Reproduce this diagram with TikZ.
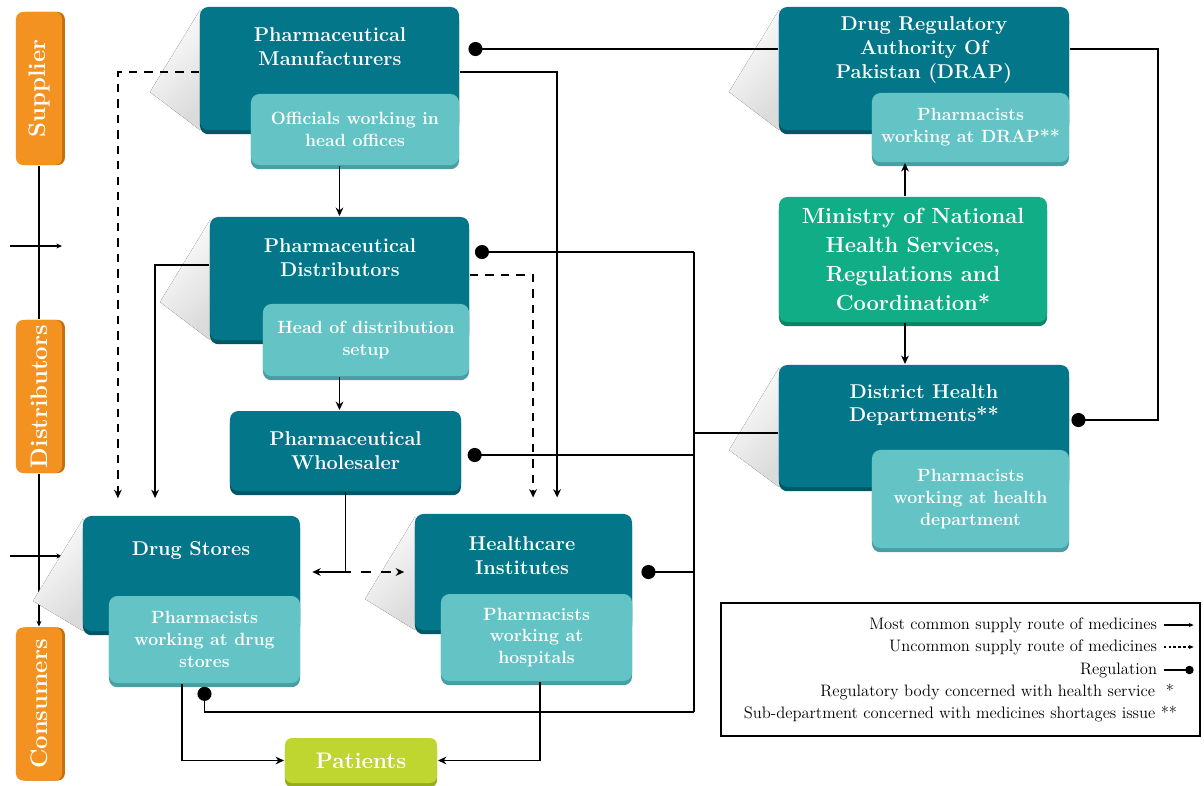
\documentclass[tikz,border=0pt]{standalone}
\usetikzlibrary{arrows.meta,positioning,shadows}
\definecolor{tealbox}{RGB}{4,118,138}
\definecolor{tealedge}{RGB}{0,88,102}
\definecolor{tealsub}{RGB}{100,196,197}
\definecolor{subedge}{RGB}{72,158,162}
\definecolor{greenbox}{RGB}{17,173,134}
\definecolor{greenedge}{RGB}{8,135,102}
\definecolor{limebox}{RGB}{191,214,48}
\definecolor{limeedge}{RGB}{150,172,28}
\definecolor{orangebox}{RGB}{243,146,32}
\definecolor{orangeedge}{RGB}{196,110,18}
\tikzset{
  mainbox/.style={fill=tealbox, rounded corners=6pt, inner sep=0pt,
    general shadow={fill=tealedge, shadow yshift=-3pt}},
  subbox/.style={fill=tealsub, rounded corners=6pt, text=white, align=center,
    font=\fontsize{12.6}{15.5}\selectfont\bfseries,
    general shadow={fill=subedge, shadow yshift=-3pt}},
  boxtext/.style={text=white, align=center, font=\fontsize{14.2}{17}\selectfont\bfseries},
  stage/.style={fill=orangebox, rounded corners=5pt, rotate=90, text=white,
    minimum width=3.825cm, minimum height=1.15cm,
    font=\fontsize{17}{19}\selectfont\bfseries,
    general shadow={fill=orangeedge, shadow xshift=2pt}},
  longshade/.style={left color=white, right color=black!14, shading angle=45, draw=none},
  rare/.style={->, dash pattern=on 6pt off 5pt},
  reg/.style={-{Circle[length=10pt]}},
  legtext/.style={anchor=east, inner sep=0pt, font=\fontsize{11.8}{13}\selectfont},
}
\begin{document}
\begin{tikzpicture}[x=0.025cm, y=-0.025cm, line width=1.4pt,
  >={Stealth[length=6pt,width=5.5pt]}]
\useasboundingbox (0,0) rectangle (1204,785);

% stages on the left
\node[stage] (sup) at (39,88.5) {Supplier};
\node[stage] (distl) at (39,396.5) {Distributors};
\node[stage] (cons) at (39,704) {Consumers};
\draw[line width=0.8pt] (sup.west) -- (distl.east);
\draw[line width=0.8pt, ->, >={Stealth[length=4pt,width=3.5pt]}] (distl.west) -- (cons.east);
\foreach \y in {246,556}
  \draw[line width=0.8pt, ->, >={Stealth[length=4pt,width=3.5pt]}] (sup.west |- 10,\y) ++(-29,0) -- ++(52,0);

% long shadows
\foreach \x/\t/\b in {200/7/130, 210/217/340, 83/516/631, 415/514/630, 779/7/130, 779/365/487}
  \fill[longshade] (\x,\t+3) -- (\x-50,\t+85) -- (\x,\b) -- cycle;

% supply chain boxes
\node[mainbox, minimum width=6.475cm, minimum height=3.075cm] (man) at (329.5,68.5) {};
\node[boxtext] (mant) at (330,47) {Pharmaceutical\\Manufacturers};
\node[subbox, minimum width=5.2cm, minimum height=1.775cm] (offi) at (355,129.5) {Officials working in\\head offices};

\node[mainbox, minimum width=6.475cm, minimum height=3.075cm] (dist) at (339.5,278.5) {};
\node[boxtext] (distt) at (340,258) {Pharmaceutical\\Distributors};
\node[subbox, minimum width=5.15cm, minimum height=1.8cm] (head) at (366,340) {Head of distribution\\setup};

\node[mainbox, minimum width=5.775cm, minimum height=2cm, boxtext] (whole) at (345.5,451) {Pharmaceutical\\Wholesaler};

\node[mainbox, minimum width=5.425cm, minimum height=2.875cm] (ds) at (191.5,573.5) {};
\node[boxtext] (dst) at (191,551) {Drug Stores};
\node[subbox, minimum width=4.775cm, minimum height=2.175cm] (dss) at (204.5,639.5) {Pharmacists\\working at drug\\stores};

\node[mainbox, minimum width=5.425cm, minimum height=2.9cm] (hc) at (523.5,572) {};
\node[boxtext] (hct) at (522,556) {Healthcare\\Institutes};
\node[subbox, minimum width=4.775cm, minimum height=2.175cm] (hcs) at (536.5,637.5) {Pharmacists\\working at\\hospitals};

\node[fill=limebox, rounded corners=5pt, minimum width=3.8cm, minimum height=1.125cm,
  text=white, font=\fontsize{16}{18}\selectfont\bfseries,
  general shadow={fill=limeedge, shadow yshift=-3pt}] (pat) at (361,760.5) {Patients};

% regulators
\node[mainbox, minimum width=7.25cm, minimum height=3.075cm] (drap) at (924,68.5) {};
\node[boxtext] (drapt) at (924,50) {Drug Regulatory\\Authority Of\\Pakistan (DRAP)};
\node[subbox, minimum width=4.925cm, minimum height=1.725cm] (drsub) at (970.5,127.5) {Pharmacists\\working at DRAP**};

\node[fill=greenbox, rounded corners=6pt, minimum width=6.7cm, minimum height=3.125cm,
  text=white, align=center, font=\fontsize{15.6}{20.5}\selectfont\bfseries,
  general shadow={fill=greenedge, shadow yshift=-3pt}] (min) at (913,259.5)
  {Ministry of National\\Health Services,\\Regulations and\\Coordination*};

\node[mainbox, minimum width=7.25cm, minimum height=3.05cm] (dhd) at (924,426) {};
\node[boxtext] (dhdt) at (924,405) {District Health\\Departments**};
\node[subbox, minimum width=4.925cm, minimum height=2.45cm] (dhs) at (970.5,499) {Pharmacists\\working at health\\department};

% supply routes
\draw[->] (offi.south -| dist.north) -- (dist.north);
\draw[->] (head.south -| dist.south) -- (whole.north -| dist.south);
\draw[->, shorten >=11pt] (man.east |- 0,72) -| ([xshift=0.84cm]hc.north);
\draw[rare, shorten >=12pt] (man.west |- 0,72) -| ([xshift=-1.84cm]ds.north);
\draw[->, shorten >=12pt] (dist.west |- 0,265) -| ([xshift=-0.91cm]ds.north);
\draw[rare, shorten >=11pt] (dist.east |- 0,275) -| ([xshift=0.24cm]hc.north);
\coordinate (split) at (whole.south |- 0,572);
\draw (whole.south) -- (split);
\draw[->, shorten >=8pt] (split) -- (ds.east |- split);
\draw[->, dash pattern=on 7pt off 7pt, dash phase=3pt, shorten >=7pt] (split) -- (hc.west |- split);
\draw[->] ([xshift=-0.56cm]dss.south) |- (pat.west);
\draw[->] ([xshift=0.09cm]hcs.south) |- (pat.east);
\draw[->] ([xshift=-0.2cm]min.north) -- ([xshift=-0.2cm]min.north |- drsub.south);
\draw[->] ([xshift=-0.2cm]min.south) -- ([xshift=-0.2cm]min.south |- dhd.north);

% regulation
\coordinate (regtop) at (694,252);
\coordinate (regbot) at (694,712);
\draw (regtop) -- (regbot);
\draw (dhd.west |- 0,433) -- (regtop |- 0,433);
\draw[reg, shorten >=6pt] (drap.west |- 0,49) -- (man.east |- 0,49);
\draw[reg, shorten >=1pt] (drap.east |- 0,49) -- (1158,49) |- (dhd.east |- 0,420);
\draw[reg, shorten >=3.5pt] (regtop) -- (dist.east |- regtop);
\draw[reg, shorten >=4pt] (regtop |- 0,455) -- (whole.east |- 0,455);
\draw[reg, shorten >=6pt] (regtop |- 0,572) -- (hc.east |- 0,572);
\draw[reg, shorten >=2pt] (regbot) -| (dss.south);

% legend
\node[draw, line width=1pt, minimum width=11.975cm, minimum height=3.325cm] (legend) at (960.5,669.5) {};
\node[legtext] (lg1) at (1158,625) {Most common supply route of medicines};
\node[legtext] (lg2) at (1158,647) {Uncommon supply route of medicines};
\node[legtext] (lg3) at (1158,670) {Regulation};
\node[legtext] (lg4) at (1175,692) {Regulatory body concerned with health service~~*};
\node[legtext] (lg5) at (1178,714) {Sub-department concerned with medicines shortages issue **};
\draw[->, line width=0.8pt, >={Stealth[length=3.5pt,width=3pt]}] ([xshift=4pt]lg1.east) -- ++(30,0);
\draw[->, line width=0.8pt, dash pattern=on 2pt off 1.5pt, >={Stealth[length=3.5pt,width=3pt]}] ([xshift=4pt]lg2.east) -- ++(30,0);
\draw[line width=0.8pt, -{Circle[length=6pt]}] ([xshift=4pt]lg3.east) -- ++(30,0);
\end{tikzpicture}
\end{document}
